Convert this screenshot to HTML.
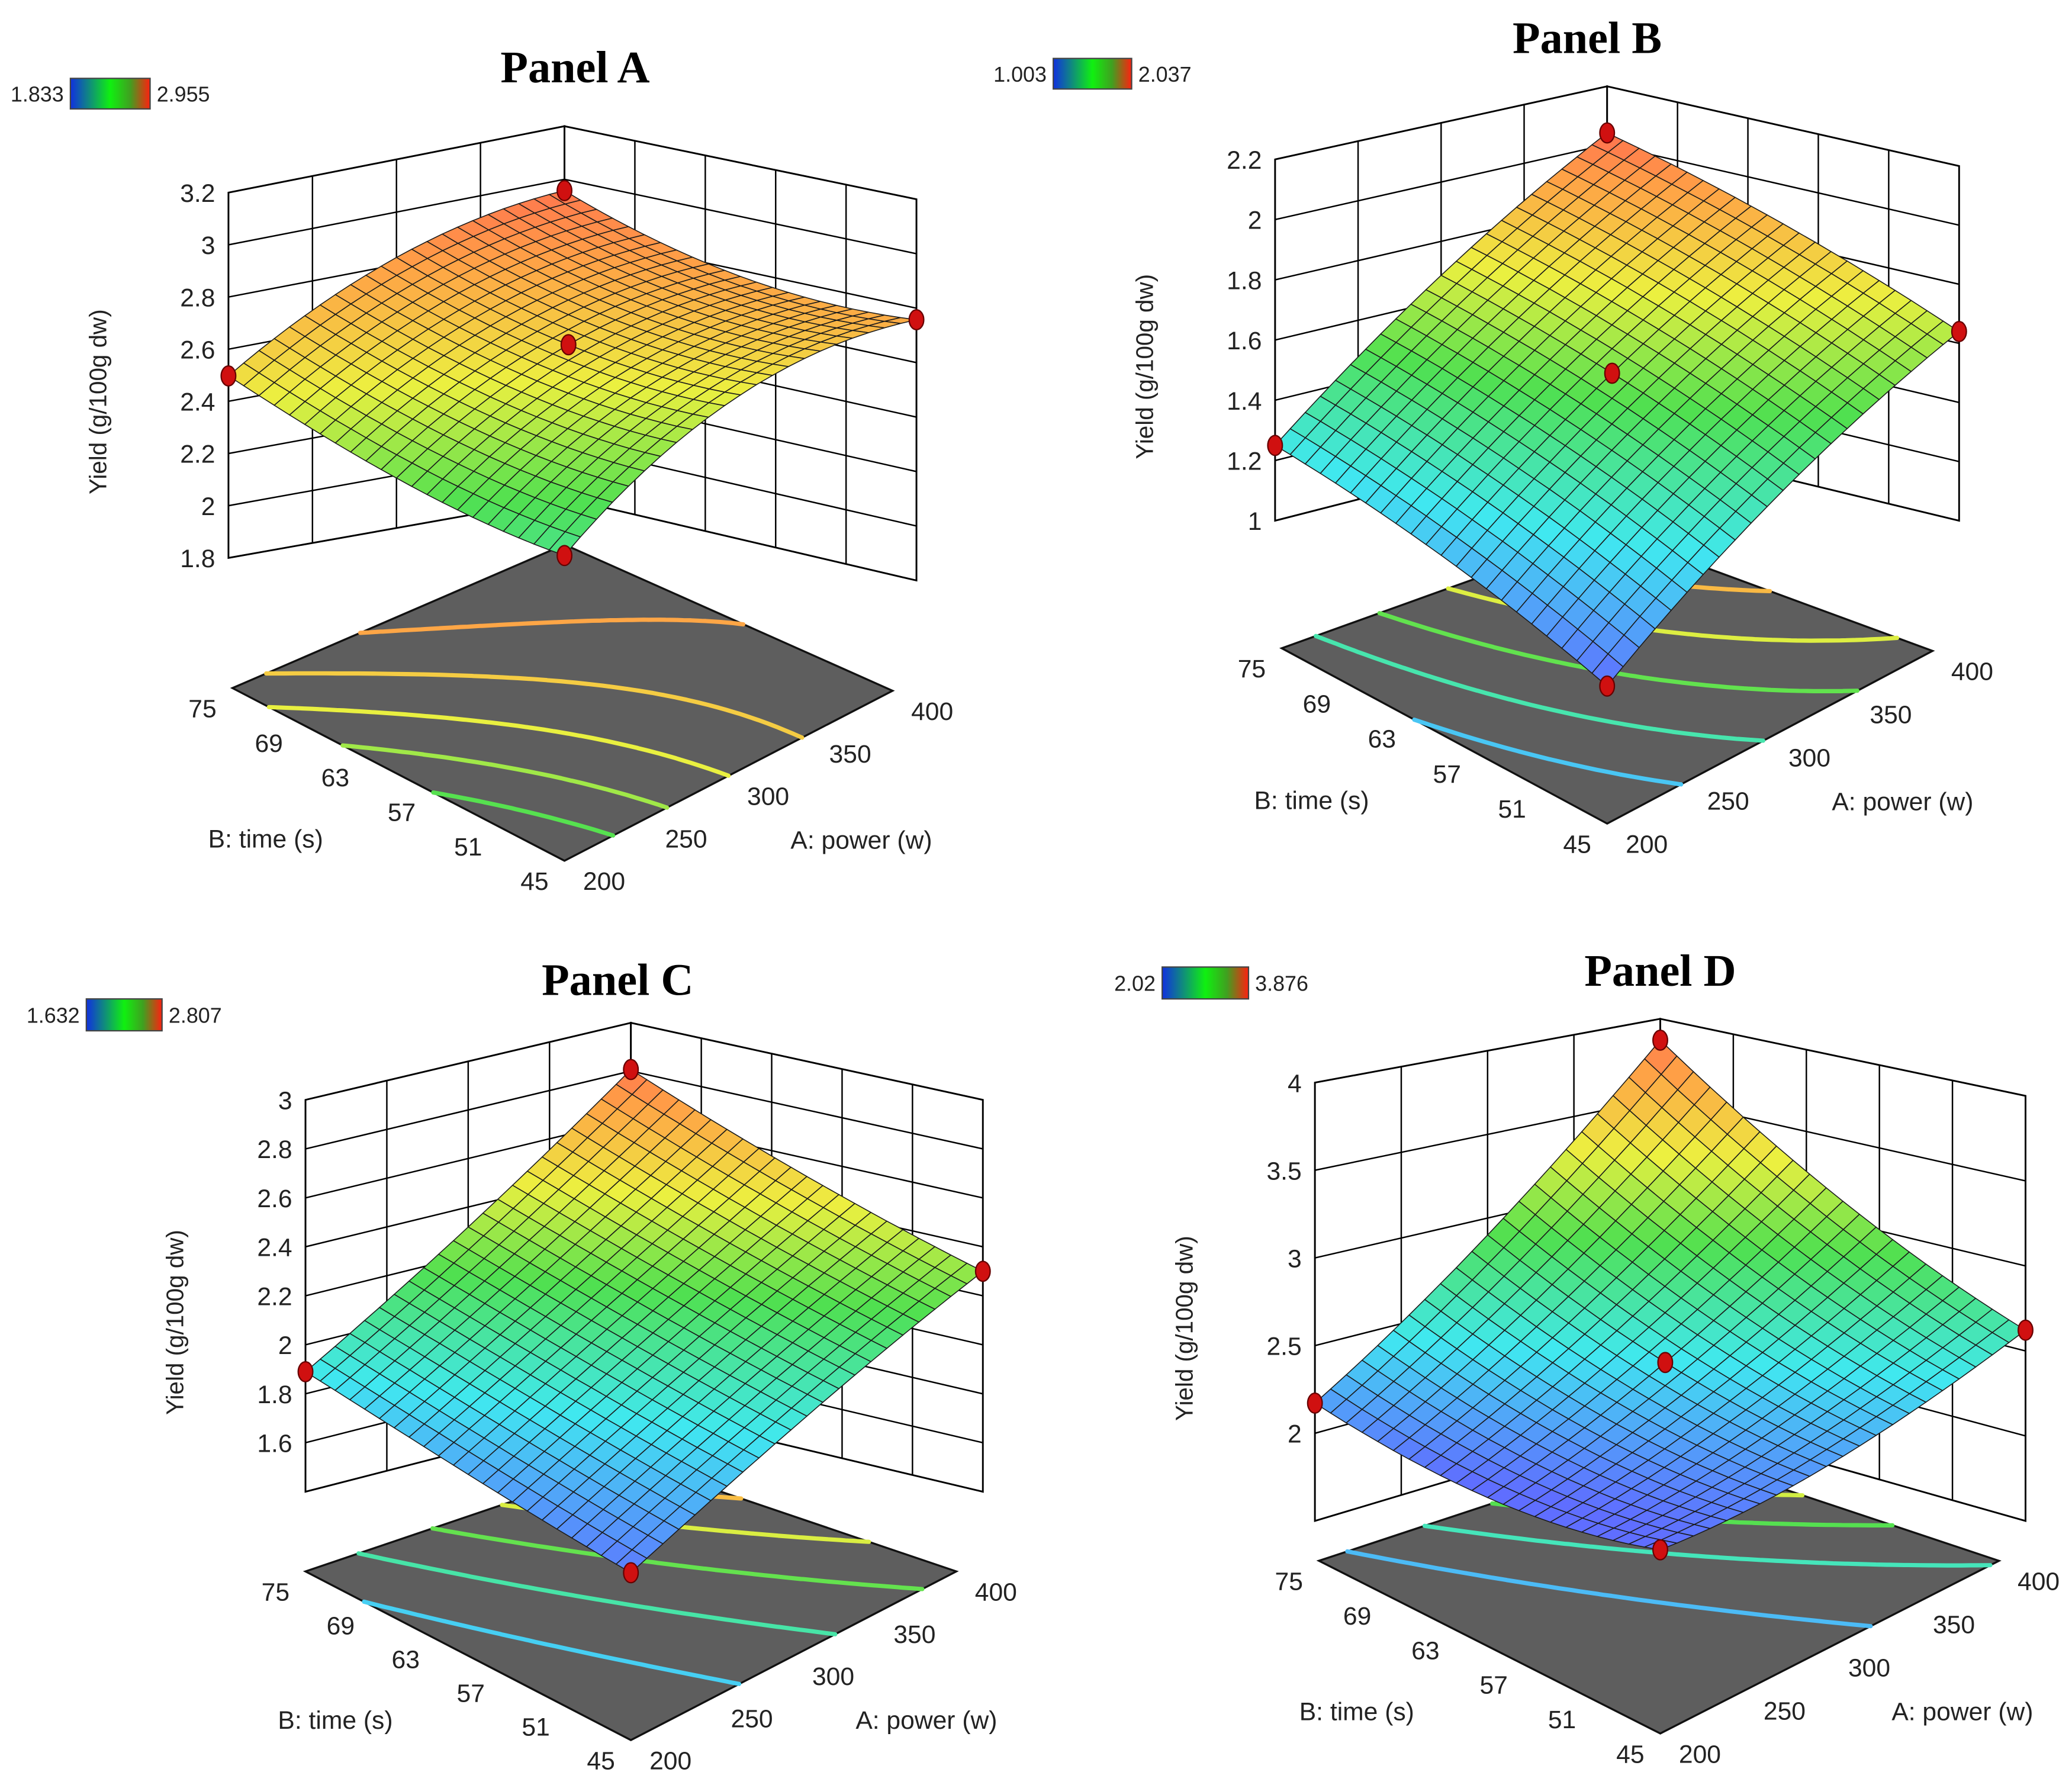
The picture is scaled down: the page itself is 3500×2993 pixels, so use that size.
<!DOCTYPE html>
<html><head><meta charset="utf-8"><style>
html,body{margin:0;padding:0;background:#fff;}
svg{display:block;}
text{font-family:"Liberation Sans","DejaVu Sans",sans-serif;fill:#222;}
.title{font-family:"Liberation Serif",serif;font-weight:bold;font-size:34px;fill:#000;}
</style></head><body>
<svg id="fig" xmlns="http://www.w3.org/2000/svg" width="3500" height="2993" viewBox="0 0 1560 1334" preserveAspectRatio="none">
<defs>
<linearGradient id="lg" x1="0" x2="1" y1="0" y2="0">
<stop offset="0" stop-color="#1030e0"/><stop offset="0.5" stop-color="#10f010"/><stop offset="0.75" stop-color="#40a020"/><stop offset="1" stop-color="#ff2010"/>
</linearGradient>
</defs>
</svg>
<script>
// ---- data ----
const panelTitles = ["Panel A","Panel B","Panel C","Panel D"];
const legendMin = ["1.833","1.003","1.632","2.02"];
const legendMax = ["2.955","2.037","2.807","3.876"];
// quadratic model coefficients [b0, bA, bB, bAB, bAA, bBB] in coded units
const coefA = [2.53, 0.3475, 0.2175, -0.1175, -0.1, 0.08];
const coefB = [1.55, 0.357, 0.162, 0.038, -0.04, -0.027];
const coefC = [2.10, 0.396, 0.191, 0.062, 0.03, 0.027];
const coefD = [2.43, 0.577, 0.352, 0.27, 0.12, 0.117];
const zTicksA = [1.8,2,2.2,2.4,2.6,2.8,3,3.2];
const zTicksB = [1,1.2,1.4,1.6,1.8,2,2.2];
const zTicksC = [1.6,1.8,2,2.2,2.4,2.6,2.8,3];
const zTicksD = [2,2.5,3,3.5,4];
const powerTicks = [200,250,300,350,400];
const timeTicks = [45,51,57,63,69,75];
const designPointsA = [[200,45],[200,75],[400,45],[400,75],[300,60]];
const designPointsB = [[200,45],[200,75],[400,45],[400,75],[300,60]];
const designPointsC = [[200,45],[200,75],[400,45],[400,75]];
const designPointsD = [[200,45],[200,75],[400,45],[400,75],[300,60]];

// ---- layout (geometry, not data) ----
const geom = [
 {zr:[1.8,3.2], cr:[1.1,3.1], coef:coefA, zt:zTicksA, dp:designPointsA, title:[433,50], leg:[53,59,60,23],
  F:{fx:425,fy:648,x:425,y0:425,y1:80}, L:{fx:175,fy:518,x:172,y0:420,y1:145}, R:{fx:672,fy:520,x:690,y0:437,y1:150}, K:{fx:425,fy:410,x:425,y0:375,y1:95}},
 {zr:[1,2.2], cr:[1.0,2.1], coef:coefB, zt:zTicksB, dp:designPointsB, title:[1195,28], leg:[793,44,59,23],
  F:{fx:1210,fy:620,x:1210,y0:517,y1:217}, L:{fx:965,fy:488,x:960,y0:392,y1:120}, R:{fx:1455,fy:490,x:1475,y0:392,y1:125}, K:{fx:1210,fy:400,x:1210,y0:328,y1:65}},
 {zr:[1.4,3], cr:[1.6,2.9], coef:coefC, zt:zTicksC, dp:designPointsC, title:[465,737], leg:[65,752,57,24],
  F:{fx:475,fy:1310,x:475,y0:1242,y1:842}, L:{fx:230,fy:1183,x:230,y0:1123,y1:828}, R:{fx:720,fy:1183,x:740,y0:1123,y1:828}, K:{fx:475,fy:1100,x:475,y0:1060,y1:770}},
 {zr:[1.5,4], cr:[2.0,4.0], coef:coefD, zt:zTicksD, dp:designPointsD, title:[1250,730], leg:[875,728,65,24],
  F:{fx:1250,fy:1305,x:1250,y0:1248,y1:848}, L:{fx:993,fy:1175,x:990,y0:1145,y1:815}, R:{fx:1505,fy:1175,x:1525,y0:1145,y1:825}, K:{fx:1250,fy:1090,x:1250,y0:1067,y1:767}}
];
const stops = [[0,[95,110,255]],[0.22,[64,232,240]],[0.45,[80,224,80]],[0.65,[236,240,64]],[0.85,[255,160,70]],[1,[255,85,85]]];
function cmap(t){t=Math.max(0,Math.min(1,t));for(let i=1;i<stops.length;i++){if(t<=stops[i][0]){const a=stops[i-1],b=stops[i];const f=(t-a[0])/(b[0]-a[0]);return 'rgb('+a[1].map((c,k)=>Math.round(c+(b[1][k]-c)*f)).join(',')+')';}}return 'rgb(255,85,85)';}
const NS='http://www.w3.org/2000/svg';
const svg=document.getElementById('fig');
function el(tag,attrs,parent){const e=document.createElementNS(NS,tag);for(const k in attrs)e.setAttribute(k,attrs[k]);(parent||svg).appendChild(e);return e;}
function model(c,a,b){return c[0]+c[1]*a+c[2]*b+c[3]*a*b+c[4]*a*a+c[5]*b*b;}

geom.forEach((g,pi)=>{
  const grp=el('g',{});
  
  
  const bil=(k,u,v)=>g.F[k]*(1-u)*(1-v)+g.R[k]*u*(1-v)+g.L[k]*(1-u)*v+g.K[k]*u*v;
  const fp=(u,v)=>[bil('fx',u,v),bil('fy',u,v)];
  const pt=(u,v,z)=>{const y0=bil('y0',u,v),y1=bil('y1',u,v);return [bil('x',u,v),y0+(z-g.zr[0])/(g.zr[1]-g.zr[0])*(y1-y0)];};
  const f=(u,v)=>model(g.coef,2*u-1,2*v-1);
  const wl=el('g',{},grp);
  
  
  const P=a=>a.map(p=>p[0].toFixed(1)+','+p[1].toFixed(1)).join(' ');
  el('polygon',{points:P([pt(0,1,g.zr[0]),pt(0,1,g.zr[1]),pt(1,1,g.zr[1]),pt(1,1,g.zr[0])]),fill:'#fff',stroke:'#000','stroke-width':1.3},wl);
  el('polygon',{points:P([pt(1,1,g.zr[0]),pt(1,1,g.zr[1]),pt(1,0,g.zr[1]),pt(1,0,g.zr[0])]),fill:'#fff',stroke:'#000','stroke-width':1.3},wl);
  g.zt.forEach(z=>{const a=pt(0,1,z),b=pt(1,1,z),c=pt(1,0,z);el('polyline',{points:P([a,b,c]),fill:'none',stroke:'#000','stroke-width':1.1},wl);});
  powerTicks.forEach(p=>{const u=(p-200)/200;const a=pt(u,1,g.zr[0]),b=pt(u,1,g.zr[1]);el('line',{x1:a[0],y1:a[1],x2:b[0],y2:b[1],stroke:'#000','stroke-width':1.1},wl);});
  timeTicks.forEach(t=>{const v=(t-45)/30;const a=pt(1,v,g.zr[0]),b=pt(1,v,g.zr[1]);el('line',{x1:a[0],y1:a[1],x2:b[0],y2:b[1],stroke:'#000','stroke-width':1.1},wl);});
  g.zt.forEach(z=>{const p=pt(0,1,z);const t=el('text',{x:p[0]-10,y:p[1]+7,'font-size':19,'text-anchor':'end'},grp);t.textContent=String(z);
    
    });
  const lm=pt(0,1,(g.zr[0]+g.zr[1])/2);
  const zl=el('text',{x:0,y:0,'font-size':18,'text-anchor':'middle',transform:'translate('+(lm[0]-92)+','+(lm[1]+20)+') rotate(-90)'},grp);
  zl.textContent='Yield (g/100g dw)';
  
  
  const fl=el('polygon',{points:P([fp(0,0),fp(0,1),fp(1,1),fp(1,0)]),fill:'#5e5e5e',stroke:'#111','stroke-width':1.5},grp);
  
  
  const M=40;let fmin=1e9,fmax=-1e9;const V=[];
  for(let i=0;i<=M;i++){V[i]=[];for(let j=0;j<=M;j++){const val=f(i/M,j/M);V[i][j]=val;fmin=Math.min(fmin,val);fmax=Math.max(fmax,val);}}
  for(let L=1;L<=5;L++){
    const lev=fmin+(fmax-fmin)*L/6;let d='';
    for(let i=0;i<M;i++)for(let j=0;j<M;j++){
      const c=[[i,j],[i+1,j],[i+1,j+1],[i,j+1]];const pts=[];
      for(let e=0;e<4;e++){const a=c[e],b=c[(e+1)%4];const va=V[a[0]][a[1]],vb=V[b[0]][b[1]];
        if((va-lev)*(vb-lev)<0){const t=(lev-va)/(vb-va);pts.push(fp((a[0]+(b[0]-a[0])*t)/M,(a[1]+(b[1]-a[1])*t)/M));}}
      for(let k=0;k+1<pts.length;k+=2)d+='M'+pts[k][0].toFixed(1)+' '+pts[k][1].toFixed(1)+'L'+pts[k+1][0].toFixed(1)+' '+pts[k+1][1].toFixed(1);
    }
    const cp=el('path',{d:d,stroke:cmap((lev-g.cr[0])/(g.cr[1]-g.cr[0])),'stroke-width':3.2,fill:'none','stroke-linecap':'round'},grp);
    
    
  }
  timeTicks.forEach(t=>{const v=(t-45)/30;const p=fp(0,v);
    const tx=el('text',{x:p[0]-12,y:p[1]+22,'font-size':19,'text-anchor':'end'},grp);tx.textContent=String(t);
    
    });
  powerTicks.forEach(pw=>{const u=(pw-200)/200;const p=fp(u,0);
    const tx=el('text',{x:p[0]+14,y:p[1]+22,'font-size':19,'text-anchor':'start'},grp);tx.textContent=String(pw);
    
    });
  const tp=fp(0,0.5),pp=fp(0.5,0);
  const bt=el('text',{x:tp[0]-100,y:tp[1]+55,'font-size':19,'text-anchor':'middle'},grp);bt.textContent='B: time (s)';
  
  
  const at=el('text',{x:pp[0]+100,y:pp[1]+55,'font-size':19,'text-anchor':'middle'},grp);at.textContent='A: power (w)';
  
  
  const N=22;const cells=[];
  for(let i=0;i<N;i++)for(let j=0;j<N;j++)cells.push([i,j]);
  cells.sort((a,b)=>(b[0]+b[1])-(a[0]+a[1]));
  const sg=el('g',{},grp);
  
  
  cells.forEach(([i,j])=>{const u0=i/N,u1=(i+1)/N,v0=j/N,v1=(j+1)/N;
    const val=(f(u0,v0)+f(u1,v0)+f(u1,v1)+f(u0,v1))/4;
    el('polygon',{points:P([pt(u0,v0,f(u0,v0)),pt(u1,v0,f(u1,v0)),pt(u1,v1,f(u1,v1)),pt(u0,v1,f(u0,v1))]),fill:cmap((val-g.cr[0])/(g.cr[1]-g.cr[0])),stroke:'#1a1a1a','stroke-width':0.7},sg);});
  g.dp.forEach(([pw,t])=>{const u=(pw-200)/200,v=(t-45)/30;const p=pt(u,v,f(u,v));
    const d=el('ellipse',{cx:p[0],cy:p[1],rx:5.5,ry:7.5,fill:'#d01010',stroke:'#600','stroke-width':1},grp);
    
    });
  const ti=el('text',{x:g.title[0],y:g.title[1]+12,'text-anchor':'middle',class:'title'},grp);ti.textContent=panelTitles[pi];
  
  
  const lg=el('g',{},grp);
  
  
  const [lx,ly,lw,lh]=g.leg;
  el('rect',{x:lx,y:ly,width:lw,height:lh,fill:'url(#lg)',stroke:'#444','stroke-width':1},lg);
  const t1=el('text',{x:lx-5,y:ly+lh/2+6,'font-size':16,'text-anchor':'end'},lg);t1.textContent=legendMin[pi];
  const t2=el('text',{x:lx+lw+5,y:ly+lh/2+6,'font-size':16,'text-anchor':'start'},lg);t2.textContent=legendMax[pi];
});
</script>
</body></html>
